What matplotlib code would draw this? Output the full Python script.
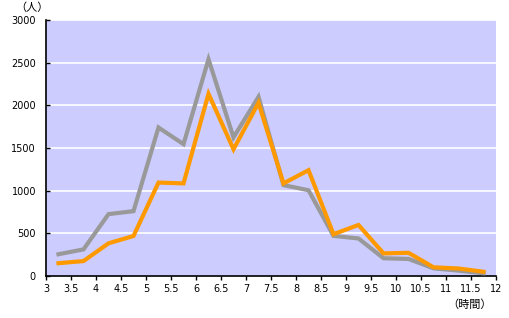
import matplotlib
matplotlib.use("Agg")
import matplotlib.pyplot as plt
import numpy as np

plt.rcParams['font.family'] = ['Noto Sans CJK JP', 'DejaVu Sans']

hours = [3.25, 3.75, 4.25, 4.75, 5.25, 5.75, 6.25, 6.75, 7.25, 7.75,
         8.25, 8.75, 9.25, 9.75, 10.25, 10.75, 11.25, 11.75]
gray_vals = [255, 312, 725, 760, 1740, 1545, 2540, 1625, 2100, 1065,
             1005, 470, 440, 208, 200, 90, 63, 32]
orange_vals = [150, 175, 383, 469, 1095, 1085, 2135, 1485, 2030, 1085,
               1240, 490, 598, 265, 272, 102, 88, 50]
xticks = [3 + 0.5 * i for i in range(19)]
xtick_labels = ["3", "3.5", "4", "4.5", "5", "5.5", "6", "6.5", "7", "7.5",
                "8", "8.5", "9", "9.5", "10", "10.5", "11", "11.5", "12"]
yticks = [0, 500, 1000, 1500, 2000, 2500, 3000]

W, H = 509, 318
fig = plt.figure(figsize=(W / 100, H / 100), dpi=100)
ax = fig.add_axes([46 / W, 1 - 276 / H, 450 / W, 256 / H])
ax.set_facecolor('#CCCCFF')
ax.set_xlim(3, 12)
ax.set_ylim(0, 3000)

for y in yticks[1:]:
    ax.axhline(y, color='white', lw=1.2, zorder=1)

ax.plot(hours, gray_vals, color='#999999', lw=3.0, zorder=3, solid_joinstyle='miter')
ax.plot(hours, orange_vals, color='#FF9900', lw=3.0, zorder=4, solid_joinstyle='miter')

for s in ['top', 'right']:
    ax.spines[s].set_visible(False)
ax.spines['left'].set_color('black')
ax.spines['bottom'].set_color('black')
ax.spines['left'].set_linewidth(1.2)
ax.spines['bottom'].set_linewidth(1.2)

ax.set_xticks(xticks)
ax.set_xticklabels(xtick_labels, fontsize=7, family=['DejaVu Sans'])
ax.set_yticks(yticks)
ax.set_yticklabels([str(v) for v in yticks], fontsize=7, family=['DejaVu Sans'])
ax.tick_params(axis='x', direction='out', length=3, width=1, pad=3)
ax.tick_params(axis='y', direction='in', length=3, width=1, pad=7.2)

fig.text(31.5 / W, 1 - 8 / H, '（人）', fontsize=8, ha='center', va='center')
fig.text(470 / W, 1 - 305 / H, '（時間）', fontsize=8, ha='center', va='center')

fig.savefig('out.png', dpi=100)
